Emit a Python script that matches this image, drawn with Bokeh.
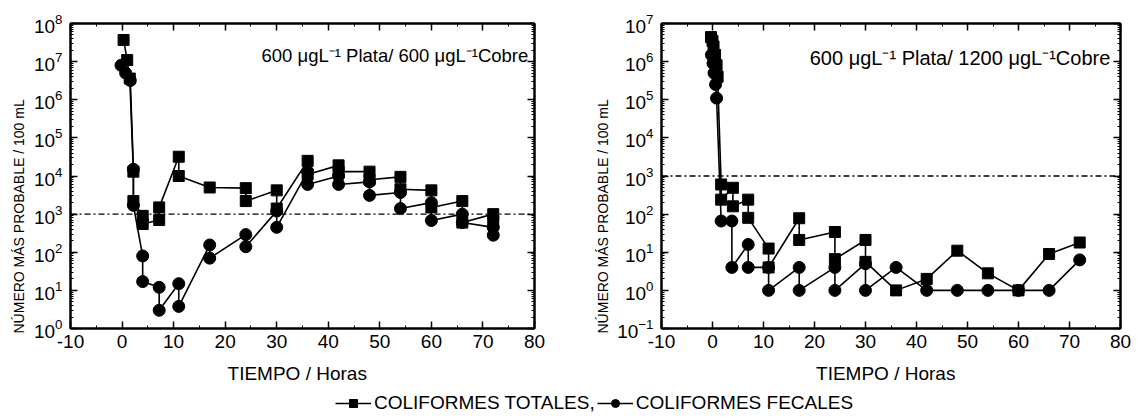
from bokeh.plotting import figure
from bokeh.models import (LinearAxis, LogAxis, FixedTicker, Span, Label, Title,
                          Legend, LegendItem, CustomJSTickFormatter)
from bokeh.layouts import column, row
from bokeh.embed import file_html
from bokeh.resources import INLINE

# ---------------- data ----------------
x_ticks = [-10, 0, 10, 20, 30, 40, 50, 60, 70, 80]
x_minor = [-5, 5, 15, 25, 35, 45, 55, 65, 75]
left_y_ticks = [1e0, 1e1, 1e2, 1e3, 1e4, 1e5, 1e6, 1e7, 1e8]
right_y_ticks = [1e-1, 1e0, 1e1, 1e2, 1e3, 1e4, 1e5, 1e6, 1e7]
limit_value = 1e3

left_title = "600 \u03bcgL\u207b\u00b9 Plata/ 600 \u03bcgL\u207b\u00b9Cobre"
right_title = "600 \u03bcgL\u207b\u00b9 Plata/ 1200 \u03bcgL\u207b\u00b9Cobre"
y_label = "N\u00daMERO M\u00c1S PROBABLE / 100 mL"
x_label = "TIEMPO  /  Horas"
series_names = ["COLIFORMES TOTALES,", "COLIFORMES FECALES"]

# left panel: 600 ug/L silver / 600 ug/L copper
left_tot_t = [0.3, 1.0, 1.5, 2.2, 2.2, 4.0, 4.0, 7.2, 7.2, 11.0, 11.0, 17.0, 24.0, 24.0,
              30.0, 30.0, 36.0, 36.0, 42.0, 42.0, 48.0, 48.0, 54.0, 54.0, 60.0, 60.0,
              66.0, 66.0, 72.0, 72.0]
left_tot_v = [3.7e7, 1.1e7, 3.6e6, 1.3e4, 2.2e3, 900, 550, 700, 1.5e3, 3.2e4, 1.0e4, 5.0e3,
              4.8e3, 2.2e3, 4.2e3, 1.4e3, 2.5e4, 1.1e4, 1.9e4, 1.3e4, 1.3e4, 8.0e3,
              9.5e3, 4.5e3, 4.2e3, 1.5e3, 2.2e3, 600, 1.0e3, 650]
left_fec_t = [-0.2, 0.7, 1.6, 2.2, 2.2, 4.0, 4.0, 7.2, 7.2, 11.0, 11.0, 17.0, 17.0, 24.0,
              24.0, 30.0, 30.0, 36.0, 36.0, 42.0, 42.0, 48.0, 48.0, 54.0, 54.0, 60.0,
              60.0, 66.0, 66.0, 72.0, 72.0]
left_fec_v = [8e6, 5e6, 3.2e6, 1.5e4, 1.7e3, 80, 17, 12, 3, 15, 3.8, 155, 70, 290, 140,
              1.2e3, 450, 1.3e4, 6e3, 1.0e4, 6e3, 7e3, 3.1e3, 3.7e3, 1.4e3, 2e3, 680,
              1.0e3, 600, 450, 280]

# right panel: 600 ug/L silver / 1200 ug/L copper
right_tot_t = [-0.3, 0.0, 0.2, 0.5, 0.8, 1.0, 1.7, 1.7, 4.0, 4.0, 7.0, 7.0, 11.0, 11.0,
               17.0, 17.0, 24.0, 24.0, 30.0, 30.0, 36.0, 42.0, 48.0, 54.0, 60.0, 66.0, 72.0]
right_tot_v = [4.4e6, 3.5e6, 2.5e6, 1.5e6, 8e5, 4e5, 600, 240, 490, 160, 240, 80, 12.5, 4,
               78, 21, 34, 6.6, 21, 5.6, 1, 2, 11, 2.8, 1, 9, 18]
right_fec_t = [-0.2, 0.1, 0.3, 0.6, 0.8, 1.7, 3.8, 3.8, 7.0, 7.0, 11.0, 11.0, 17.0, 17.0,
               24.0, 24.0, 30.0, 30.0, 36.0, 42.0, 48.0, 54.0, 60.0, 66.0, 72.0]
right_fec_v = [1.5e6, 9e5, 5e5, 2.5e5, 1.1e5, 66, 66, 4, 16, 4, 4, 1, 4, 1, 4, 1, 5, 1,
               4, 1, 1, 1, 1, 1, 6.3]

FONT = "Liberation Sans"


def minor_log(ticks):
    out = []
    for t in ticks[:-1]:
        out += [t * k for k in range(2, 10)]
    return out


def style_axis(ax):
    ax.axis_line_width = 2
    ax.axis_line_color = "black"
    ax.major_tick_in = 7
    ax.major_tick_out = 0
    ax.minor_tick_in = 3
    ax.minor_tick_out = 0
    ax.major_tick_line_width = 1.5
    ax.major_label_text_font = FONT
    ax.major_label_text_font_size = "19px"
    ax.major_label_text_color = "black"


def make_panel(ticks, tot_t, tot_v, fec_t, fec_v, title, title_xy, title_size,
               width, border_left, border_right, border_bottom):
    p = figure(width=width, height=392, x_range=(-10, 80),
               y_range=(ticks[0], ticks[-1]), y_axis_type="log",
               toolbar_location=None, output_backend="svg",
               min_border_left=border_left, min_border_right=border_right,
               min_border_top=23, min_border_bottom=border_bottom)
    p.xgrid.visible = False
    p.ygrid.visible = False
    p.outline_line_color = "black"
    p.outline_line_width = 2

    xt = FixedTicker(ticks=x_ticks, minor_ticks=x_minor)
    yt = FixedTicker(ticks=ticks, minor_ticks=minor_log(ticks))
    bottom = p.below[0]
    left = p.left[0]
    bottom.ticker = xt
    bottom.formatter = CustomJSTickFormatter(code="return tick.toString()")
    left.ticker = yt
    blank = CustomJSTickFormatter(code="return ' '")
    top = LinearAxis(ticker=xt, formatter=blank, major_label_standoff=0)
    right = LogAxis(ticker=yt, formatter=blank, major_label_standoff=0)
    p.add_layout(top, "above")
    p.add_layout(right, "right")
    for ax in (bottom, left, top, right):
        style_axis(ax)
    top.major_label_text_font_size = "2px"
    right.major_label_text_font_size = "2px"

    bottom.axis_label = x_label
    bottom.axis_label_text_font = FONT
    bottom.axis_label_text_font_size = "19px"
    bottom.axis_label_text_font_style = "normal"
    bottom.axis_label_text_color = "black"
    bottom.axis_label_standoff = 12
    bottom.major_label_standoff = 6
    left.major_label_standoff = 8

    p.add_layout(Span(location=limit_value, dimension="width", line_color="black",
                      line_width=1.3, line_dash="6 3 2 3"))

    p.line(tot_t, tot_v, line_color="black", line_width=1.6)
    p.scatter(tot_t, tot_v, marker="square", size=11, color="black")
    p.line(fec_t, fec_v, line_color="black", line_width=1.6)
    p.scatter(fec_t, fec_v, marker="circle", size=12, color="black")

    p.add_layout(Label(x=title_xy[0], y=title_xy[1], text=title, text_font=FONT,
                       text_font_size=title_size, text_align="right",
                       text_baseline="middle", text_color="black"))
    p.add_layout(Title(text=y_label, align="left", text_font=FONT,
                       text_font_size="14px", text_font_style="normal",
                       text_color="black", standoff=8, offset=-5), "left")
    return p


p1 = make_panel(left_y_ticks, left_tot_t, left_tot_v, left_fec_t, left_fec_v,
                left_title, (78.8, 1.45e7), "18.5px", 588, 70, 54, 64)
p2 = make_panel(right_y_ticks, right_tot_t, right_tot_v, right_fec_t, right_fec_v,
                right_title, (78.0, 1.23e6), "20px", 544, 72, 12, 62)

# legend strip (sample glyphs kept outside the visible range)
pl = figure(width=1132, height=26, x_range=(0, 1), y_range=(0, 1),
            toolbar_location=None, output_backend="svg", min_border=0)
pl.axis.visible = False
pl.xgrid.visible = False
pl.ygrid.visible = False
pl.outline_line_color = None
r1 = pl.line([-5, -4], [-5, -5], line_color="black", line_width=1.5)
r2 = pl.scatter([-5], [-5], marker="square", size=9, color="black")
r3 = pl.line([-5, -4], [-5, -5], line_color="black", line_width=1.5)
r4 = pl.scatter([-5], [-5], marker="circle", size=10, color="black")
leg = Legend(items=[LegendItem(label=series_names[0], renderers=[r1, r2]),
                    LegendItem(label=series_names[1], renderers=[r3, r4])],
             orientation="horizontal", location=(335, 4), border_line_color=None,
             background_fill_alpha=0, label_text_font=FONT, label_text_font_size="19px",
             glyph_width=36, glyph_height=20, spacing=2, padding=0, margin=0,
             label_standoff=3, label_text_color="black")
pl.add_layout(leg)

layout = column(row(p1, p2), pl)
open("out.html", "w").write(file_html(layout, INLINE))
